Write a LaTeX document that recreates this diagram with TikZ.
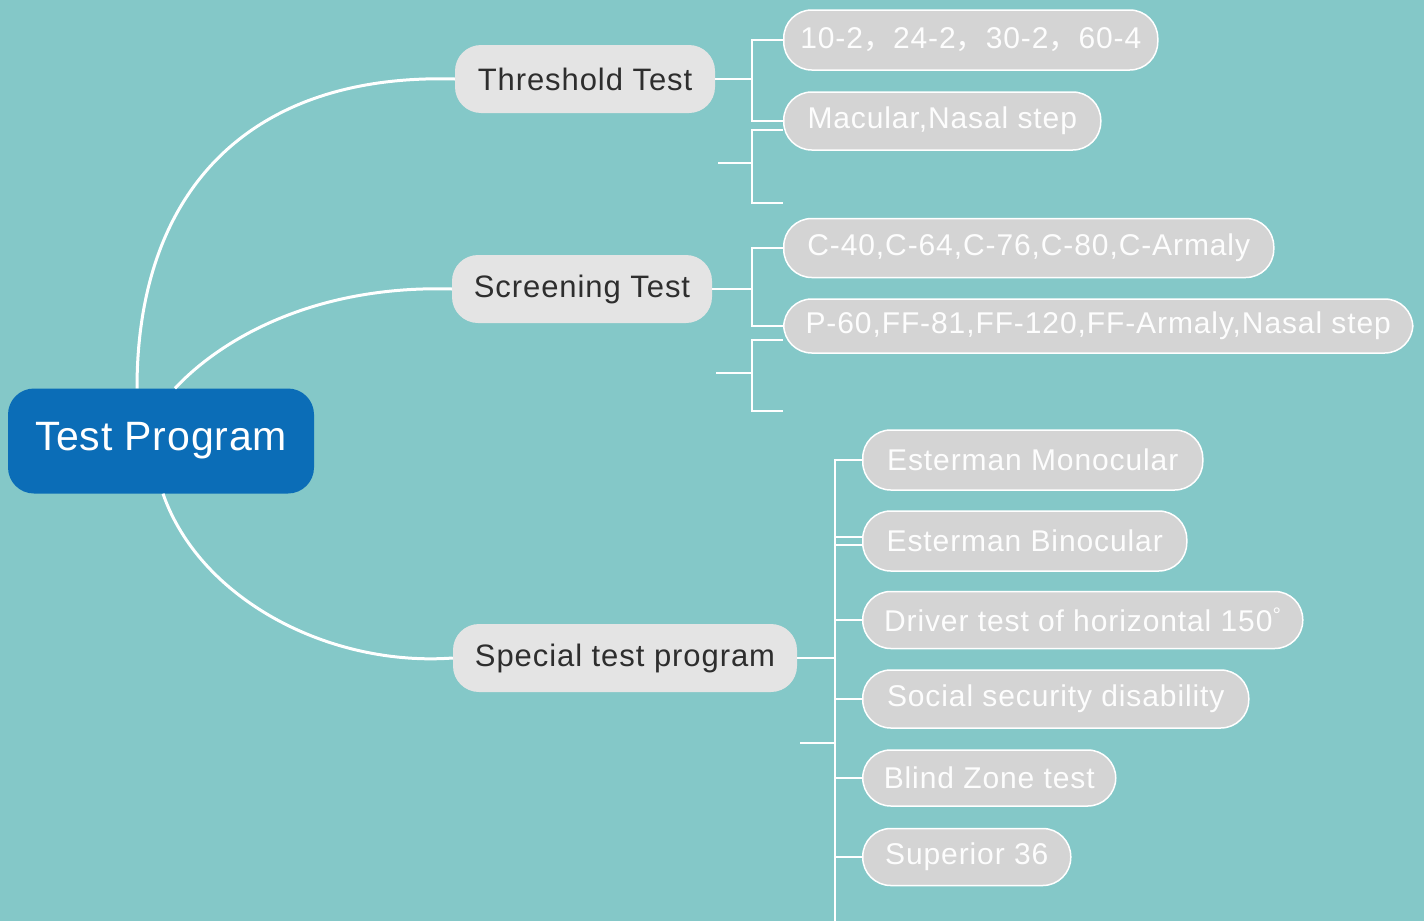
\documentclass[tikz,border=0pt]{standalone}
\usepackage{fontspec}
\setmainfont{Liberation Sans}
\newfontfamily\cjkfont{Noto Sans CJK SC}
\usepackage{xcolor}
\usepackage{tikz}
\usetikzlibrary{calc}

\definecolor{bgteal}{HTML}{84C8C8}
\definecolor{progblue}{HTML}{0B6DB7}
\definecolor{branchgray}{HTML}{E4E4E4}
\definecolor{leafgray}{HTML}{D4D4D4}
\definecolor{inkgray}{HTML}{2E2E2E}
\newcommand{\fwcomma}{{\cjkfont ，}}

\begin{document}
\begin{tikzpicture}[x=1pt,y=-1pt,
    root/.style={fill=progblue,text=white,rounded corners=26pt,minimum height=105pt,
      font=\fontsize{41}{44}\selectfont\addfontfeature{LetterSpace=2}},
    branch/.style={fill=branchgray,text=inkgray,rounded corners=26pt,minimum height=68pt,
      font=\fontsize{31}{36}\selectfont\addfontfeature{LetterSpace=3}},
    leaf/.style={fill=leafgray,draw=white,line width=1.5pt,text=white!95!leafgray,
      rounded corners=28pt,anchor=west,
      font=\fontsize{30}{34}\selectfont\addfontfeature{LetterSpace=3}},
    link/.style={draw=white,line width=3pt},
    bar/.style={draw=white,line width=2.5pt}]
  \fill[bgteal] (0,0) rectangle (1424,921);
  \useasboundingbox (0,0) rectangle (1424,921);

  % root and main branches
  \node[root,minimum width=306pt] (prog) at (161,441) {Test Program};
  \node[branch,minimum width=260pt] (thr) at (585,79) {Threshold Test};
  \node[branch,minimum width=260pt] (scr) at (582,289) {Screening Test};
  \node[branch,minimum width=344pt] (spc) at (625,658) {Special test program};

  \draw[link] ($(prog.north)+(-24,0)$) .. controls (137,190) and (250,73) .. (thr.west);
  \draw[link] ($(prog.north)+(14,0)$) .. controls (225,335) and (320,285) .. (scr.west);
  \draw[link] ($(prog.south)+(2,0)$) .. controls (200,600) and (330,667) .. (spc.west);

  % threshold leaves
  \node[leaf,minimum width=374pt,minimum height=60pt] (t1) at (783,40) {10-2\fwcomma 24-2\fwcomma 30-2\fwcomma 60-4};
  \node[leaf,minimum width=317pt,minimum height=58pt] (t2) at (783,121) {Macular,Nasal step};
  \coordinate (tbar) at (752,0);
  \draw[bar] (thr.east) -- (thr.east -| tbar);
  \draw[bar] (t1.west) -| (t2.west -| tbar) -- (t2.west);
  \coordinate (ta) at (783,130);
  \coordinate (tb) at (783,203);
  \coordinate (tc) at (718,163);
  \draw[bar] (ta) -| (tb -| tbar) -- (tb);
  \draw[bar] (tc) -- (tc -| tbar);

  % screening leaves
  \node[leaf,minimum width=490pt,minimum height=59pt] (s1) at (783,248) {C-40,C-64,C-76,C-80,C-Armaly};
  \node[leaf,minimum width=629pt,minimum height=54pt] (s2) at (783,326) {P-60,FF-81,FF-120,FF-Armaly,Nasal step};
  \draw[bar] (scr.east) -- (scr.east -| tbar);
  \draw[bar] (s1.west) -| (s2.west -| tbar) -- (s2.west);
  \coordinate (sa) at (783,340);
  \coordinate (sb) at (783,411);
  \coordinate (sc) at (716,373);
  \draw[bar] (sa) -| (sb -| tbar) -- (sb);
  \draw[bar] (sc) -- (sc -| tbar);

  % special leaves
  \node[leaf,minimum width=340pt,minimum height=60pt] (e1) at (862,460) {Esterman Monocular};
  \node[leaf,minimum width=324pt,minimum height=60pt] (e2) at (862,541) {Esterman Binocular};
  \node[leaf,minimum width=440pt,minimum height=57pt] (e3) at (862,620) {Driver test of horizontal 150\textsuperscript{°}};
  \node[leaf,minimum width=386pt,minimum height=58pt] (e4) at (862,699) {Social security disability};
  \node[leaf,minimum width=253pt,minimum height=56pt] (e5) at (862,778) {Blind Zone test};
  \node[leaf,minimum width=208pt,minimum height=57pt] (e6) at (862,857) {Superior 36};
  \coordinate (spine) at (835,921);
  \coordinate (sd) at (800,743);
  \draw[bar] (spc.east) -- (spc.east -| spine);
  \draw[bar] (spine) |- (e1.west);
  \foreach \n in {e3,e4,e5,e6}
    \draw[bar] (\n.west) -- (\n.west -| spine);
  \draw[bar] ($(e2.west)+(0,-4)$) -- ++(-27,0);
  \draw[bar] ($(e2.west)+(0,4)$) -- ++(-27,0);
  \draw[bar] (sd) -- (sd -| spine);
\end{tikzpicture}
\end{document}
